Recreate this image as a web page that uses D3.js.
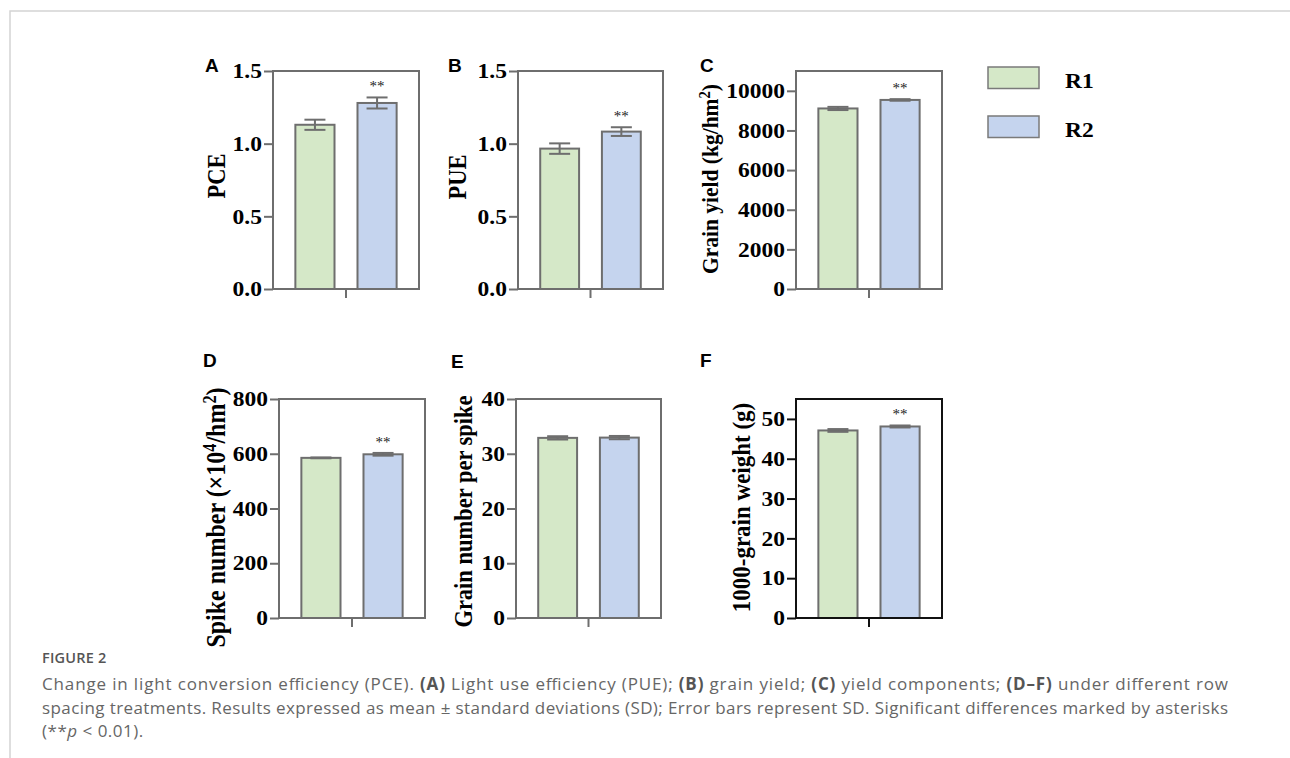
<!DOCTYPE html>
<html>
<head>
<meta charset="utf-8">
<script src="https://cdn.jsdelivr.net/npm/d3@7"></script>
<style>
  body { margin: 0; background: #fff; }
  text { white-space: pre; }
</style>
</head>
<body>
<svg id="fig" width="1290" height="758"></svg>
<script>
// treatments
var groups = ["R1", "R2"];
var groupColors = ["#d5e8c8", "#c5d4ee"];

// means and SD
var pceMean = [1.13, 1.28],    pceSd = [0.035, 0.038];
var pueMean = [0.966, 1.083],  pueSd = [0.036, 0.03];
var yieldMean = [9110, 9540],  yieldSd = [80, 40];
var spikeMean = [585, 598],    spikeSd = [1.5, 5];
var grainMean = [32.9, 32.95], grainSd = [0.3, 0.3];
var tgwMean = [47.1, 48.1],    tgwSd = [0.35, 0.25];

// tick labels
var pceTicks = [0, 0.5, 1.0, 1.5];
var pueTicks = [0, 0.5, 1.0, 1.5];
var yieldTicks = [0, 2000, 4000, 6000, 8000, 10000];
var spikeTicks = [0, 200, 400, 600, 800];
var grainTicks = [0, 10, 20, 30, 40];
var tgwTicks = [0, 10, 20, 30, 40, 50];

// significance marks per panel
var sigMarks = ["**", "**", "**", "**", "", "**"];

var panels = [
  {letter: "A", mean: pceMean, sd: pceSd, ymax: 1.5, ticks: pceTicks, fmt: ".1f", label: [["PCE", 0]]},
  {letter: "B", mean: pueMean, sd: pueSd, ymax: 1.5, ticks: pueTicks, fmt: ".1f", label: [["PUE", 0]]},
  {letter: "C", mean: yieldMean, sd: yieldSd, ymax: 11000, ticks: yieldTicks, fmt: "d",
    label: [["Grain yield (kg/hm", 0], ["2", 1], [")", 0]]},
  {letter: "D", mean: spikeMean, sd: spikeSd, ymax: 800, ticks: spikeTicks, fmt: "d",
    label: [["Spike number (\u00d710", 0], ["4", 1], ["/hm", 0], ["2", 1], [")", 0]]},
  {letter: "E", mean: grainMean, sd: grainSd, ymax: 40, ticks: grainTicks, fmt: "d",
    label: [["Grain number per spike", 0]]},
  {letter: "F", mean: tgwMean, sd: tgwSd, ymax: 55, ticks: tgwTicks, fmt: "d",
    label: [["1000-grain weight (g)", 0]], dark: true}
];

// where each panel sits on the page
var layout = [
  {x: 273, y: 71, w: 146, h: 218, lx: 205, ly: 72, tx: 225, ty: -4, fs: 22.5},
  {x: 518, y: 71, w: 145, h: 218, lx: 448, ly: 72, tx: 466, ty: -3, fs: 22.5},
  {x: 796, y: 71, w: 146, h: 218, lx: 700, ly: 72, tx: 718, ty: -1, fs: 21.5},
  {x: 279, y: 399, w: 146, h: 219, lx: 203, ly: 367, tx: 225, ty: 9, fs: 24},
  {x: 516, y: 399, w: 145, h: 219, lx: 451, ly: 368, tx: 472, ty: 3, fs: 22.5},
  {x: 796, y: 399, w: 146, h: 219, lx: 700, ly: 367, tx: 750, ty: -1, fs: 23}
];

var serif = "'Liberation Serif', 'Times New Roman', serif";
var sans = "'Liberation Sans', Arial, sans-serif";
var stretch = 1.12;   // the figure is slightly wider than tall
var barStroke = "#6e6e6e";

var svg = d3.select("#fig");

// page frame
svg.append("path")
  .attr("d", "M10,758 V11 H1290")
  .attr("fill", "none")
  .attr("stroke", "#d4d4d4")
  .attr("stroke-width", 1.5);

panels.forEach(function(p, i) {
  var L = layout[i];
  var axisColor = p.dark ? "#111" : "#6e6e6e";
  var g = svg.append("g").attr("transform", "translate(" + L.x + "," + L.y + ")");

  var x = d3.scaleBand().domain(groups).range([0, L.w]).paddingInner(0.37).paddingOuter(0.36);
  var y = d3.scaleLinear().domain([0, p.ymax]).range([L.h, 0]);

  // bars
  g.selectAll("rect.bar")
    .data(groups)
    .enter().append("rect")
    .attr("class", "bar")
    .attr("x", function(d) { return x(d); })
    .attr("width", x.bandwidth())
    .attr("y", function(d, j) { return y(p.mean[j]); })
    .attr("height", function(d, j) { return L.h - y(p.mean[j]); })
    .attr("fill", function(d, j) { return groupColors[j]; })
    .attr("stroke", barStroke)
    .attr("stroke-width", 2);

  // error bars
  var cap = 10.5;
  groups.forEach(function(d, j) {
    var cx = x(d) + x.bandwidth() / 2;
    var hi = y(p.mean[j] + p.sd[j]), lo = y(p.mean[j] - p.sd[j]);
    var eg = g.append("g").attr("stroke", barStroke).attr("stroke-width", 2).attr("fill", "none");
    eg.append("line").attr("x1", cx).attr("x2", cx).attr("y1", hi).attr("y2", lo);
    eg.append("line").attr("x1", cx - cap).attr("x2", cx + cap).attr("y1", hi).attr("y2", hi);
    eg.append("line").attr("x1", cx - cap).attr("x2", cx + cap).attr("y1", lo).attr("y2", lo);
  });

  // significance mark over R2
  if (sigMarks[i]) {
    var j2 = 1;
    g.append("text")
      .attr("x", x(groups[j2]) + x.bandwidth() / 2)
      .attr("y", y(p.mean[j2] + p.sd[j2]) - 6)
      .attr("text-anchor", "middle")
      .attr("font-family", serif)
      .attr("font-size", 15)
      .attr("fill", "#222")
      .text(sigMarks[i]);
  }

  // frame
  g.append("rect")
    .attr("width", L.w).attr("height", L.h)
    .attr("fill", "none")
    .attr("stroke", axisColor)
    .attr("stroke-width", 2);

  // y axis
  var ya = g.append("g")
    .call(d3.axisLeft(y).tickValues(p.ticks).tickFormat(d3.format(p.fmt)).tickSize(9).tickPadding(2).tickSizeOuter(0));
  ya.select(".domain").remove();
  ya.selectAll(".tick line").attr("stroke", axisColor).attr("stroke-width", 2);
  ya.selectAll(".tick text").each(function() {
    var t = d3.select(this);
    var tx = +t.attr("x");
    t.attr("x", 0)
      .attr("transform", "translate(" + tx + ",0) scale(" + stretch + ",1)")
      .attr("font-family", serif)
      .attr("font-weight", "bold")
      .attr("font-size", 21)
      .attr("fill", "#000");
  });

  // single x tick at the centre
  g.append("line")
    .attr("x1", L.w / 2).attr("x2", L.w / 2)
    .attr("y1", L.h).attr("y2", L.h + 9)
    .attr("stroke", axisColor).attr("stroke-width", 2);

  // y label
  var yl = g.append("text")
    .attr("transform", "translate(" + (L.tx - L.x) + "," + (L.h / 2 + L.ty) + ") scale(" + stretch + ",1) rotate(-90)")
    .attr("text-anchor", "middle")
    .attr("font-family", serif)
    .attr("font-weight", "bold")
    .attr("font-size", L.fs)
    .attr("fill", "#000");
  var raised = false;
  p.label.forEach(function(part) {
    var ts = yl.append("tspan").text(part[0]);
    if (part[1] && !raised) { ts.attr("dy", "-0.5em").attr("font-size", L.fs * 0.68); raised = true; }
    else if (!part[1] && raised) { ts.attr("dy", (0.5 * L.fs * 0.68) + "px"); raised = false; }
    else if (part[1]) { ts.attr("font-size", L.fs * 0.68); }
  });

  // panel letter
  svg.append("text")
    .attr("x", L.lx).attr("y", L.ly)
    .attr("font-family", sans)
    .attr("font-weight", "bold")
    .attr("font-size", 19)
    .attr("fill", "#000")
    .text(p.letter);
});

// legend
var legendY = [67, 116];
groups.forEach(function(d, j) {
  svg.append("rect")
    .attr("x", 988).attr("y", legendY[j])
    .attr("width", 51).attr("height", 21.5)
    .attr("fill", groupColors[j])
    .attr("stroke", "#7a7a7a")
    .attr("stroke-width", 1.5);
  svg.append("text")
    .attr("transform", "translate(1065," + (legendY[j] + 21) + ") scale(" + stretch + ",1)")
    .attr("font-family", serif)
    .attr("font-weight", "bold")
    .attr("font-size", 21)
    .attr("fill", "#000")
    .text(d);
});

// caption
var capFont = "'Open Sans', 'Noto Sans', sans-serif";
svg.append("text")
  .attr("x", 42).attr("y", 663)
  .attr("font-family", capFont)
  .attr("font-weight", 600)
  .attr("font-size", 14.5)
  .attr("letter-spacing", 0.2)
  .attr("fill", "#555")
  .text("FIGURE 2");

var captionLines = [
  [["Change in light conversion efficiency (PCE). ", 0], ["(A)", 1], [" Light use efficiency (PUE); ", 0], ["(B)", 1],
   [" grain yield; ", 0], ["(C)", 1], [" yield components; ", 0], ["(D\u2013F)", 1], [" under different row", 0]],
  [["spacing treatments. Results expressed as mean \u00b1 standard deviations (SD); Error bars represent SD. Significant differences marked by asterisks", 0]],
  [["(**", 0], ["p", 2], [" < 0.01).", 0]]
];
var captionWidths = [1186, 1186, null];
captionLines.forEach(function(line, k) {
  var t = svg.append("text")
    .attr("x", 42).attr("y", 690 + k * 23.5)
    .attr("font-family", capFont)
    .attr("font-size", 17)
    .attr("fill", "#666");
  if (captionWidths[k]) t.attr("textLength", captionWidths[k]).attr("lengthAdjust", "spacing");
  else t.attr("letter-spacing", 0.5);
  line.forEach(function(part) {
    var ts = t.append("tspan").text(part[0]);
    if (part[1] === 1) ts.attr("font-weight", 700).attr("fill", "#555");
    if (part[1] === 2) ts.attr("font-style", "italic");
  });
});
</script>
</body>
</html>
